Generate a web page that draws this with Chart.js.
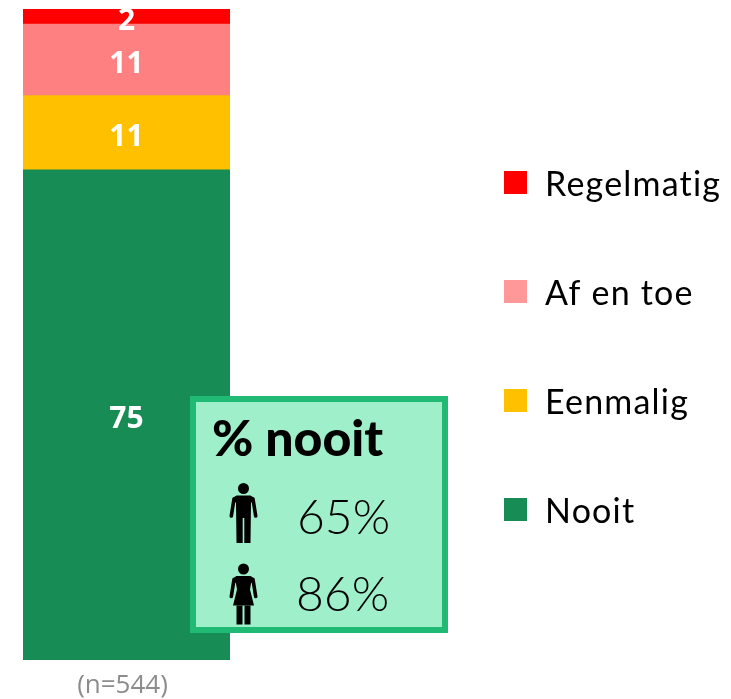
<!DOCTYPE html>
<html><head><meta charset="utf-8">
<style>html,body{margin:0;padding:0;background:#fff}#w{position:relative;width:731px;height:699px}</style>
<script src="https://cdn.jsdelivr.net/npm/chart.js@4"></script></head>
<body><div id="w"><canvas id="c" width="731" height="699"></canvas></div>
<script>
const categories = ['(n=544)'];
const seriesNames = ['Nooit','Eenmalig','Af en toe','Regelmatig'];
const nooit = [75.3];
const eenmalig = [11.4];
const afEnToe = [11.0];
const regelmatig = [2.3];
const barColors = ['#178C55','#FFC000','#FF8080','#FF0000'];
const legendColors = ['#178C55','#FFC000','#FF9999','#FF0000'];
const calloutTitle = '% nooit';
const calloutRows = [['man','65%'],['vrouw','86%']];

function person(ctx, cx, top, female){
  ctx.fillStyle='#000';
  ctx.beginPath();ctx.arc(cx,top+5.5,5.5,0,Math.PI*2);ctx.fill();
  ctx.lineCap='round';ctx.lineWidth=3.6;ctx.strokeStyle='#000';
  ctx.beginPath();ctx.moveTo(cx-9.5,top+16);ctx.lineTo(cx-12.2,top+33);ctx.stroke();
  ctx.beginPath();ctx.moveTo(cx+9.5,top+16);ctx.lineTo(cx+12.2,top+33);ctx.stroke();
  ctx.beginPath();
  ctx.moveTo(cx-7,top+12.5);ctx.lineTo(cx+7,top+12.5);ctx.lineTo(cx+11,top+15);ctx.lineTo(cx+7.5,top+20);
  if(female){
    ctx.lineTo(cx+6.5,top+26);ctx.lineTo(cx+10.5,top+42);ctx.lineTo(cx-10.5,top+42);ctx.lineTo(cx-6.5,top+26);
    ctx.lineTo(cx-7.5,top+20);ctx.lineTo(cx-11,top+15);ctx.closePath();ctx.fill();
    ctx.fillRect(cx-7,top+42,6,19);ctx.fillRect(cx+1,top+42,6,19);
  }else{
    ctx.lineTo(cx+7,top+60);ctx.lineTo(cx+0.8,top+60);ctx.lineTo(cx+0.8,top+35);ctx.lineTo(cx-0.8,top+35);
    ctx.lineTo(cx-0.8,top+60);ctx.lineTo(cx-7,top+60);ctx.lineTo(cx-7.5,top+20);ctx.lineTo(cx-11,top+15);ctx.closePath();ctx.fill();
  }
}

const decorations = {
  id:'decorations',
  afterDatasetsDraw(chart){
    const ctx=chart.ctx;
    ctx.save();
    ctx.fillStyle='#fff';ctx.textAlign='center';ctx.textBaseline='middle';
    chart.data.datasets.forEach((ds,i)=>{
      const bar=chart.getDatasetMeta(i).data[0];
      const p=bar.getProps(['x','y','base'],true);
      ctx.font='bold 30px "Open Sans"';
      ctx.fillText(String(Math.round(ds.data[0])),p.x,(p.y+p.base)/2+4.5);
    });
    ctx.textAlign='left';ctx.textBaseline='alphabetic';
    ctx.font='34px Lato';ctx.letterSpacing='1.2px';
    for(let k=0;k<4;k++){
      const i=3-k, y=171+k*109;
      ctx.fillStyle=legendColors[i];ctx.fillRect(504,y,23,23);
      ctx.fillStyle='#000';ctx.fillText(seriesNames[i],545,y+25);
    }
    ctx.letterSpacing='0px';
    ctx.fillStyle='#9FF0CA';ctx.fillRect(190,396,258,237);
    ctx.strokeStyle='#21BA75';ctx.lineWidth=6;ctx.strokeRect(193,399,252,231);
    ctx.fillStyle='#000';ctx.font='900 50px Lato';
    ctx.fillText(calloutTitle,212,456);
    ctx.font='300 48px Lato';
    calloutRows.forEach((r,k)=>{
      person(ctx,243.5,483+k*80.5,r[0]==='vrouw');
      ctx.fillStyle='#000';
      ctx.fillText(r[1],297-(k?1:0),534+k*77);
    });
    ctx.restore();
  }
};

new Chart(document.getElementById('c'),{
  type:'bar',
  data:{labels:categories,datasets:[
    {label:seriesNames[0],data:nooit,backgroundColor:barColors[0]},
    {label:seriesNames[1],data:eenmalig,backgroundColor:barColors[1]},
    {label:seriesNames[2],data:afEnToe,backgroundColor:barColors[2]},
    {label:seriesNames[3],data:regelmatig,backgroundColor:barColors[3]}
  ]},
  options:{
    responsive:false,animation:false,
    layout:{padding:{left:23,right:501,top:9,bottom:0}},
    plugins:{legend:{display:false},tooltip:{enabled:false}},
    scales:{
      x:{stacked:true,grid:{display:false,drawTicks:false},border:{display:false},
         afterFit(s){s.height=39;},
         ticks:{color:'#8C8C8C',padding:10,labelOffset:-4,font:{family:'"Open Sans"',size:26}}},
      y:{stacked:true,display:false,min:0,max:100}
    },
    datasets:{bar:{categoryPercentage:1,barPercentage:1,borderWidth:0}}
  },
  plugins:[decorations]
});
</script></body></html>
